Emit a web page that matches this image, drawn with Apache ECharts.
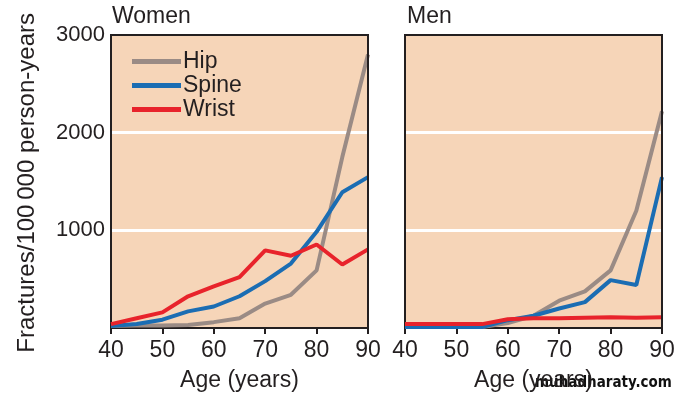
<!DOCTYPE html>
<html>
<head>
<meta charset="utf-8">
<style>
  html, body { margin: 0; padding: 0; background: #fff; }
  #chart { width: 684px; height: 399px; }
</style>
<script src="https://cdn.jsdelivr.net/npm/echarts@6/dist/echarts.min.js"></script>
</head>
<body>
<div id="chart"></div>
<script>
// age groups (years)
const ages = [40, 45, 50, 55, 60, 65, 70, 75, 80, 85, 90]
// fractures per 100 000 person-years, women
const hipWomen = [20, 25, 25, 30, 60, 100, 250, 340, 590, 1750, 2800]
const spineWomen = [20, 40, 85, 170, 220, 325, 480, 660, 985, 1390, 1545]
const wristWomen = [40, 100, 160, 325, 425, 520, 795, 740, 855, 650, 805]
// men
const hipMen = [10, 10, 10, 10, 50, 125, 280, 375, 590, 1200, 2220]
const spineMen = [10, 10, 10, 10, 80, 125, 200, 265, 490, 440, 1545]
const wristMen = [40, 40, 40, 40, 90, 100, 100, 105, 110, 105, 110]
const yTicks = [1000, 2000, 3000]
const yMax = 3000

const font = 'Liberation Sans, Arial, sans-serif'
const narrow = 'Liberation Sans Narrow, Arial Narrow, sans-serif'
const ink = '#231f20'
const colors = { Hip: '#9a8b85', Spine: '#1b6db3', Wrist: '#e8232b' }

const pairs = values => ages.map((a, i) => [a, values[i]])

const xAxis = idx => ({
  type: 'value',
  gridIndex: idx,
  min: 40,
  max: 90,
  interval: 10,
  name: 'Age (years)',
  nameLocation: 'middle',
  nameGap: 41,
  nameTextStyle: { fontFamily: narrow, fontSize: 23, color: ink },
  axisLine: { show: true, lineStyle: { color: ink, width: 2 } },
  axisTick: { show: true, inside: false, length: 6, lineStyle: { color: ink, width: 2 } },
  axisLabel: { fontFamily: narrow, fontSize: 23, color: ink, margin: 11 },
  splitLine: { show: false }
})

// right frame of each panel
const rightFrame = idx => ({
  type: 'value',
  gridIndex: idx,
  position: 'right',
  min: 0,
  max: yMax,
  z: 10,
  axisLine: { show: true, onZero: false, lineStyle: { color: ink, width: 2 } },
  axisTick: { show: false },
  axisLabel: { show: false },
  splitLine: { show: false }
})

const yAxis = (idx, showLabel) => ({
  type: 'value',
  gridIndex: idx,
  min: 0,
  max: yMax,
  interval: 1000,
  axisLine: { show: true, lineStyle: { color: ink, width: 2 } },
  axisTick: { show: false },
  axisLabel: {
    show: showLabel,
    fontFamily: font,
    fontSize: 22,
    color: ink,
    margin: 6,
    formatter: v => (yTicks.includes(v) ? String(v) : '')
  },
  splitLine: { show: true, showMaxLine: false, showMinLine: false, lineStyle: { color: '#ffffff', width: 3 } }
})

const line = (name, values, idx) => ({
  name,
  type: 'line',
  xAxisIndex: idx,
  yAxisIndex: idx,
  data: pairs(values),
  showSymbol: false,
  symbol: 'none',
  lineStyle: { width: 4, color: colors[name] },
  itemStyle: { color: colors[name] },
  z: 3
})

// dark top frame drawn as a mark line at the axis max
const withTopFrame = s => ({
  ...s,
  markLine: {
    silent: true,
    symbol: 'none',
    animation: false,
    label: { show: false },
    lineStyle: { color: ink, width: 2, type: 'solid' },
    emphasis: { disabled: true },
    data: [{ yAxis: yMax }]
  }
})

const chart = echarts.init(document.getElementById('chart'))
chart.setOption({
  backgroundColor: '#ffffff',
  animation: false,
  title: [
    { text: 'Women', left: 107, top: 0, textStyle: { fontFamily: font, fontSize: 23, fontWeight: 'normal', color: ink } },
    { text: 'Men', left: 402, top: 0, textStyle: { fontFamily: font, fontSize: 23, fontWeight: 'normal', color: ink } }
  ],
  legend: {
    orient: 'vertical',
    left: 127,
    top: 45,
    icon: 'rect',
    itemWidth: 49,
    itemHeight: 5,
    itemGap: 1,
    data: ['Hip', 'Spine', 'Wrist'],
    textStyle: { fontFamily: font, fontSize: 23, color: ink, lineHeight: 22, padding: [0, 0, 0, -3] }
  },
  grid: [
    { left: 111, right: 316, top: 35, bottom: 71, show: true, backgroundColor: '#f6d5b8', borderColor: ink, borderWidth: 2 },
    { left: 405, right: 22, top: 35, bottom: 71, show: true, backgroundColor: '#f6d5b8', borderColor: ink, borderWidth: 2 }
  ],
  xAxis: [xAxis(0), xAxis(1)],
  yAxis: [yAxis(0, true), yAxis(1, false), rightFrame(0), rightFrame(1)],
  series: [
    withTopFrame(line('Hip', hipWomen, 0)),
    line('Spine', spineWomen, 0),
    line('Wrist', wristWomen, 0),
    withTopFrame(line('Hip', hipMen, 1)),
    line('Spine', spineMen, 1),
    line('Wrist', wristMen, 1)
  ],
  graphic: [
    {
      type: 'text',
      left: 15,
      top: 13,
      style: { text: 'Fractures/100\u2009000 person-years', font: '24px ' + font, fill: ink },
      rotation: Math.PI / 2,
      originX: 0,
      originY: 0
    },
    {
      type: 'text',
      left: 535,
      top: 376,
      style: { text: 'muhadharaty.com', font: 'bold 15px DejaVu Sans Condensed, DejaVu Sans, sans-serif', fill: '#111' }
    }
  ]
})
</script>
</body>
</html>
